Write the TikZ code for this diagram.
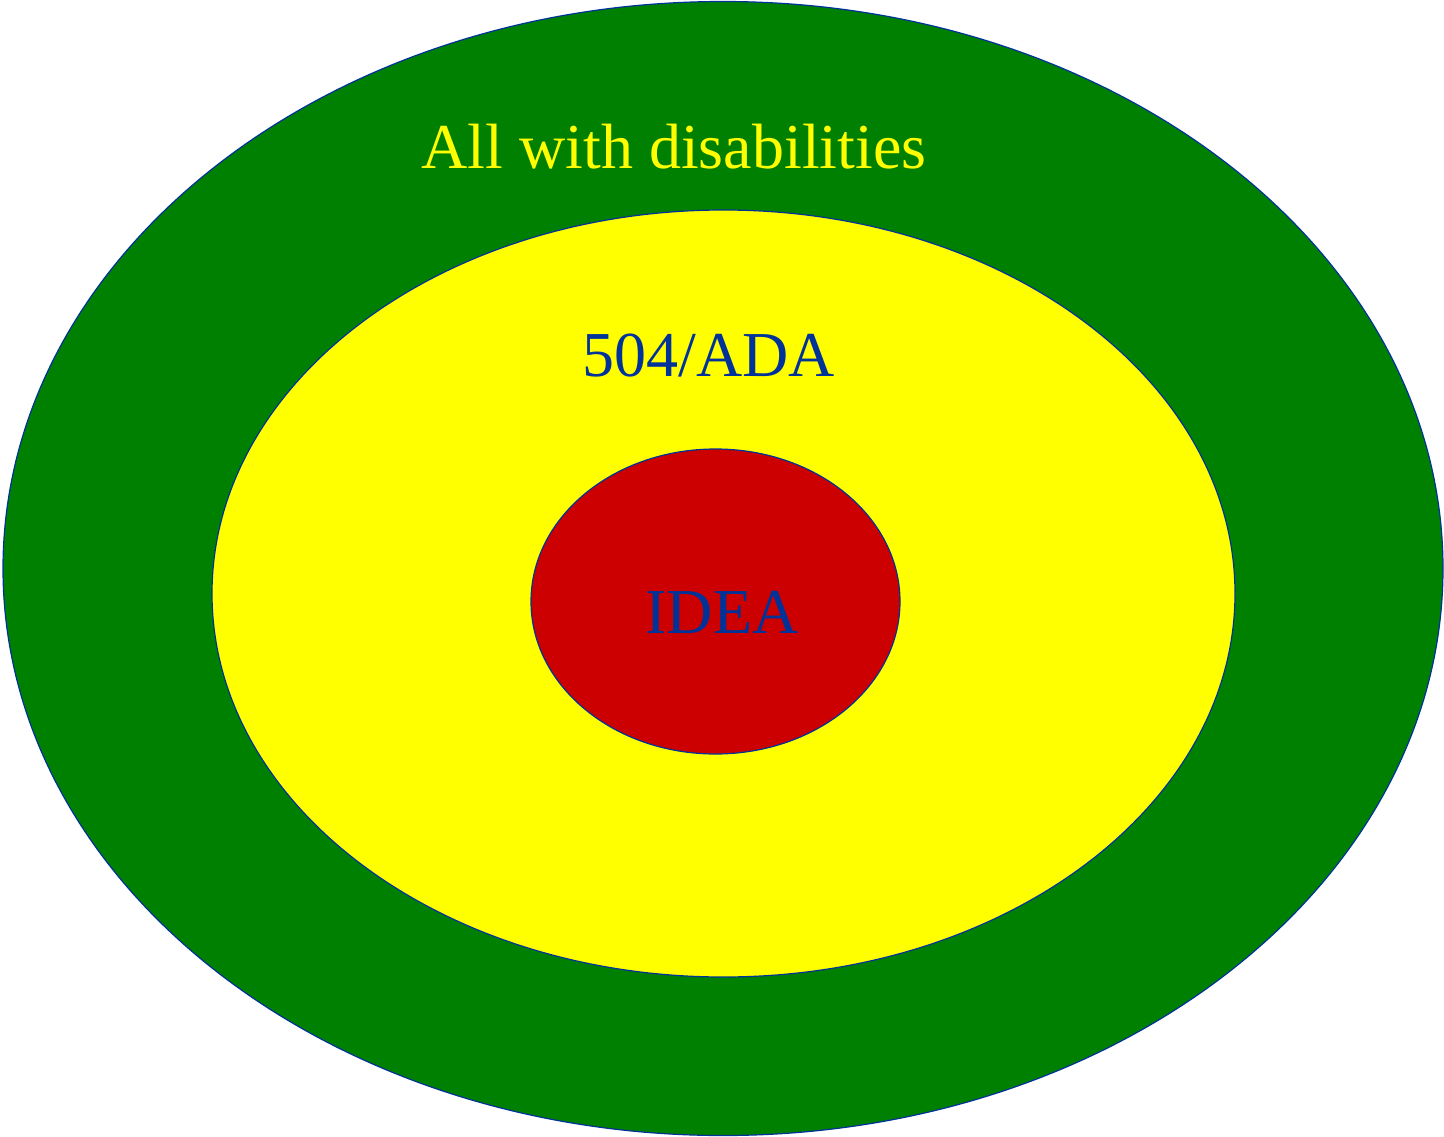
\documentclass[tikz,border=0pt]{standalone}
\usepackage{fontspec}
\setmainfont{Liberation Serif}
\definecolor{ringgreen}{HTML}{008000}
\definecolor{ringyellow}{HTML}{FFFF00}
\definecolor{ringred}{HTML}{CC0000}
\definecolor{lineblue}{HTML}{003399}
\begin{document}
\begin{tikzpicture}[x=1pt,y=-1pt,
  ring/.style={draw=lineblue,line width=1.2pt},
  lbl/.style={anchor=base,inner sep=0pt,font=\fontsize{64}{76}\selectfont}]
\useasboundingbox (0,0) rectangle (1444,1136);
\path[ring,fill=ringgreen] (723,568.5) ellipse [x radius=720, y radius=567];
\path[ring,fill=ringyellow] (723.5,593.5) ellipse [x radius=511.5, y radius=383.5];
\path[ring,fill=ringred] (715.5,601.5) ellipse [x radius=184.5, y radius=152.5];
\node[lbl,text=ringyellow] (all) at (674,168) {All with disabilities};
\node[lbl,text=lineblue] (ada) at (709,376) {504/ADA};
\node[lbl,text=lineblue] (idea) at (722,633) {IDEA};
\end{tikzpicture}
\end{document}
